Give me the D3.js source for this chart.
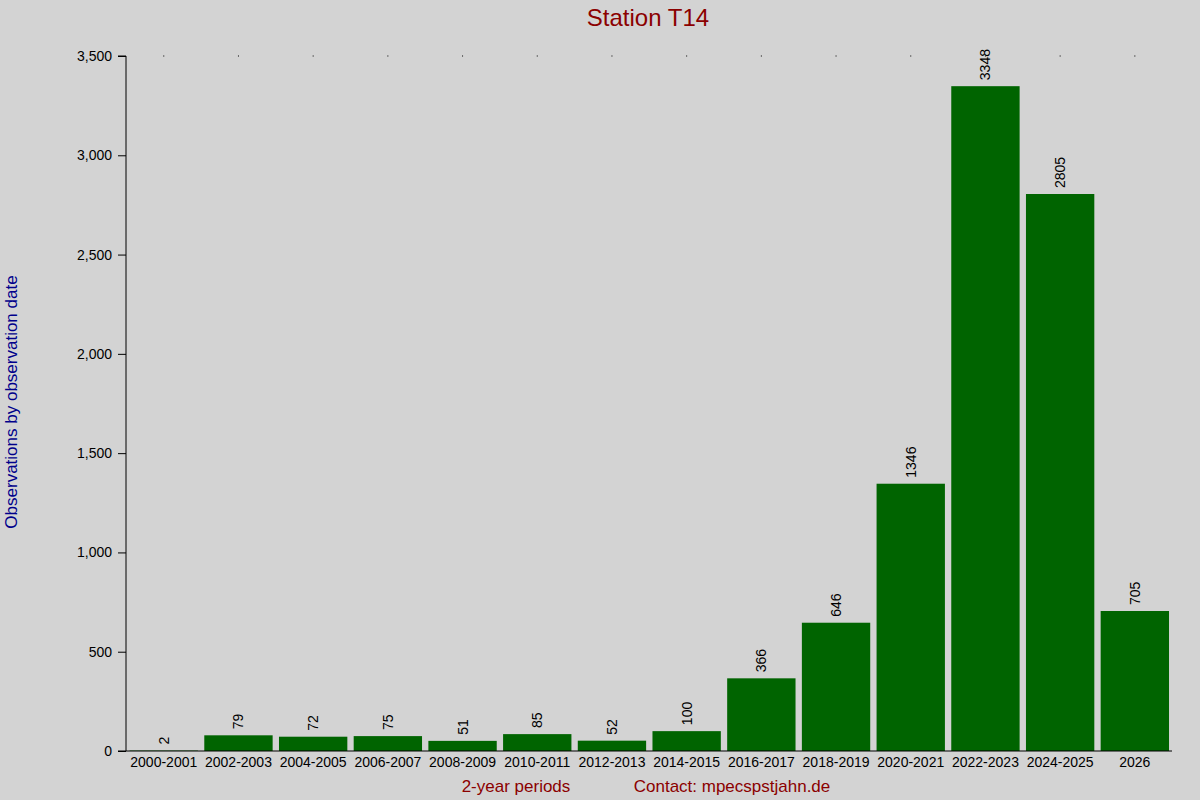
<!DOCTYPE html>
<html>
<head>
<script src="https://cdn.jsdelivr.net/npm/d3@7"></script>
<style>
html, body { margin: 0; background: #D3D3D3; }
svg { display: block; font-family: "Liberation Sans", Arial, sans-serif; }
</style>
</head>
<body>
<svg id="chart" width="1200" height="800"></svg>
<script>
var periods = ["2000-2001","2002-2003","2004-2005","2006-2007","2008-2009","2010-2011","2012-2013","2014-2015","2016-2017","2018-2019","2020-2021","2022-2023","2024-2025","2026"];
var counts = [2,79,72,75,51,85,52,100,366,646,1346,3348,2805,705];
var yTicks = [0,500,1000,1500,2000,2500,3000,3500];

var svg = d3.select("#chart");
var x = d3.scaleBand().domain(periods).range([126.6, 1172]).paddingInner(0.085).paddingOuter(0.04);
var y = d3.scaleLinear().domain([0, 3500]).range([751, 56]);

// bars
svg.selectAll("rect.bar").data(counts).enter().append("rect")
    .attr("x", function(d, i) { return x(periods[i]); })
    .attr("y", function(d) { return y(d); })
    .attr("width", x.bandwidth())
    .attr("height", function(d) { return 751 - y(d); })
    .attr("fill", "#006400");

// value labels
svg.selectAll("text.val").data(counts).enter().append("text")
    .attr("transform", function(d, i) {
      return "translate(" + (x(periods[i]) + x.bandwidth() / 2 + 5) + "," + (y(d) - 6) + ") rotate(-90)";
    })
    .attr("font-size", 14).attr("fill", "#000")
    .text(function(d) { return d; });

// y axis
var yAxis = svg.append("g").attr("transform", "translate(126,0)")
    .call(d3.axisLeft(y).tickValues(yTicks).tickSize(8).tickPadding(6));
yAxis.select(".domain").attr("d", "M-8,56H0V751");
yAxis.selectAll("text").attr("font-size", 14).attr("font-family", "Liberation Sans, Arial, sans-serif");

// x axis
var xAxis = svg.append("g").attr("transform", "translate(0,751)")
    .call(d3.axisBottom(x).tickSize(0).tickPadding(6));
xAxis.select(".domain").attr("d", "M118,0H1172");
xAxis.selectAll("text").attr("font-size", 14).attr("font-family", "Liberation Sans, Arial, sans-serif");

// top dots
svg.selectAll("rect.dot").data(periods).enter().append("rect")
    .attr("x", function(d) { return x(d) + x.bandwidth() / 2 - 0.5; })
    .attr("y", 55.5).attr("width", 1).attr("height", 1).attr("fill", "#000");

// titles
svg.append("text").attr("x", 648).attr("y", 26).attr("text-anchor", "middle")
    .attr("font-size", 24).attr("fill", "#8B0000").text("Station T14");
svg.append("text").attr("x", 516).attr("y", 792).attr("text-anchor", "middle")
    .attr("font-size", 17).attr("fill", "#8B0000").text("2-year periods");
svg.append("text").attr("x", 732).attr("y", 792).attr("text-anchor", "middle")
    .attr("font-size", 17).attr("fill", "#8B0000").text("Contact: mpecspstjahn.de");
svg.append("text").attr("transform", "translate(17,402) rotate(-90)").attr("text-anchor", "middle")
    .attr("font-size", 17).attr("fill", "#00008B").text("Observations by observation date");
</script>
</body>
</html>
